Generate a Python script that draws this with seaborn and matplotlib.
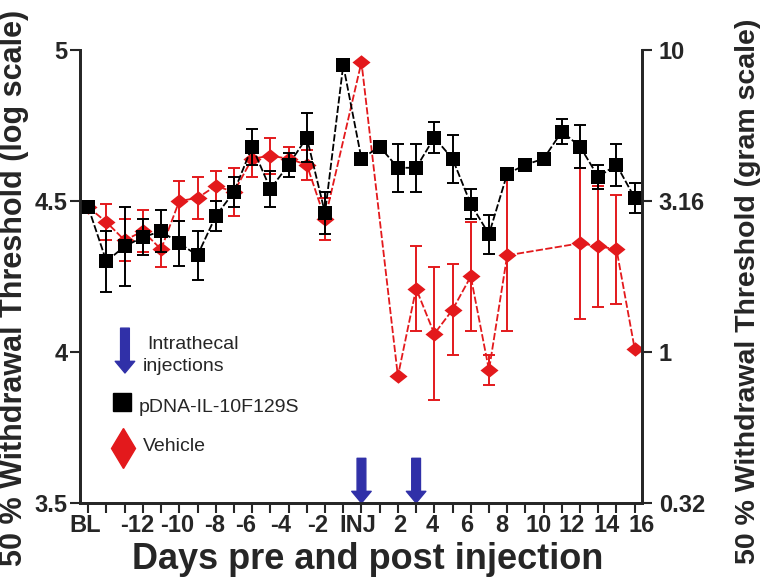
import matplotlib
matplotlib.use("Agg")
import matplotlib.pyplot as plt
import pandas as pd
import seaborn as sns

# measurement slots: 0 = BL, 15 = INJ, 30 = last day
il10_slot = list(range(31))
il10_mean = [4.48, 4.30, 4.35, 4.38, 4.40, 4.36, 4.32, 4.45, 4.53, 4.68,
             4.54, 4.62, 4.71, 4.46, 4.95, 4.64, 4.68, 4.61, 4.61, 4.71,
             4.64, 4.49, 4.39, 4.59, 4.62, 4.64, 4.73, 4.68, 4.58, 4.62, 4.51]
il10_sem = [0, 0.10, 0.13, 0.06, 0.07, 0.075, 0.08, 0.05, 0.05, 0.06,
            0.06, 0.04, 0.08, 0.07, 0, 0, 0, 0.08, 0.08, 0.05,
            0.08, 0.05, 0.065, 0, 0, 0, 0.04, 0.07, 0.04, 0.07, 0.05]

veh_slot = [0, 1, 2, 3, 4, 5, 6, 7, 8, 9, 10, 11, 12, 13, 15,
            17, 18, 19, 20, 21, 22, 23, 27, 28, 29, 30]
veh_mean = [4.48, 4.43, 4.37, 4.40, 4.34, 4.50, 4.51, 4.55, 4.53, 4.64, 4.65, 4.64, 4.62, 4.44, 4.96,
            3.92, 4.21, 4.06, 4.14, 4.25, 3.94, 4.32, 4.36, 4.35, 4.34, 4.01]
veh_sem = [0, 0.06, 0.07, 0.07, 0.06, 0.065, 0.07, 0.05, 0.08, 0.06, 0.06, 0.04, 0.05, 0.07, 0,
           0, 0.14, 0.22, 0.15, 0.18, 0.05, 0.25, 0.25, 0.20, 0.18, 0]

x_labels = ["BL", "-12", "-10", "-8", "-6", "-4", "-2", "INJ",
            "2", "4", "6", "8", "10", "12", "14", "16"]
# labels in the original drift a little from the tick marks
x_label_pos = [-0.15, 2.68, 4.87, 6.95, 8.65, 10.56, 12.6, 14.78,
               17.08, 18.9, 20.8, 22.7, 24.7, 26.55, 28.46, 30.38]
injection_slots = [15, 18]

log_ticks = [3.5, 4, 4.5, 5]
gram_labels = ["0.32", "1", "3.16", "10"]

red = "#e3191c"
blue = "#3030a8"
arrow_style = "simple,head_length=0.6,head_width=1.0,tail_width=0.45"

il10 = pd.DataFrame({"slot": il10_slot, "threshold": il10_mean, "sem": il10_sem})
veh = pd.DataFrame({"slot": veh_slot, "threshold": veh_mean, "sem": veh_sem})

sns.set_style("ticks")
plt.rcParams["font.family"] = ["Liberation Sans", "DejaVu Sans"]

fig = plt.figure(figsize=(7.6, 5.88), dpi=100)
ax = fig.add_axes([80 / 760, 85 / 588, 562 / 760, 453 / 588])

wide_diamond = [(-1, 0), (0, 0.8), (1, 0), (0, -0.8), (-1, 0)]

# vehicle first so the pDNA squares sit on top
v = veh[veh["sem"] > 0]
ax.errorbar(v["slot"], v["threshold"], yerr=v["sem"], fmt="none", ecolor=red,
            elinewidth=1.4, capsize=4.5, capthick=1.4, zorder=2)
sns.lineplot(data=veh, x="slot", y="threshold", color=red, marker=wide_diamond,
             markersize=13, markeredgewidth=0, lw=1.3, ls=(0, (4, 1.3)), ax=ax, zorder=3)

b = il10[il10["sem"] > 0]
ax.errorbar(b["slot"], b["threshold"], yerr=b["sem"], fmt="none", ecolor="black",
            elinewidth=1.4, capsize=4.5, capthick=1.4, zorder=4)
sns.lineplot(data=il10, x="slot", y="threshold", color="black", marker="s",
             markersize=9.5, markeredgewidth=0, lw=1.3, ls=(0, (4, 1.3)), ax=ax, zorder=5)

# injection arrows on the x axis
for s in injection_slots:
    ax.annotate("", xy=(s, 3.5), xytext=(s, 3.648),
                arrowprops=dict(arrowstyle=arrow_style, mutation_scale=14, color=blue,
                                shrinkA=0, shrinkB=0),
                zorder=6)

# hand-made legend
ax.annotate("", xy=(0.080, 0.287), xytext=(0.080, 0.386), xycoords="axes fraction",
            arrowprops=dict(arrowstyle=arrow_style, mutation_scale=14, color=blue,
                            shrinkA=0, shrinkB=0))
ax.text(0.119, 0.349, "Intrathecal", transform=ax.transAxes, fontsize=14, va="center", ha="left")
ax.text(0.112, 0.302, "injections", transform=ax.transAxes, fontsize=14, va="center", ha="left")
ax.plot([0.0747], [0.223], marker="s", markersize=13.5, color="black",
        transform=ax.transAxes, clip_on=False)
ax.text(0.105, 0.21, "pDNA-IL-10F129S", transform=ax.transAxes, fontsize=14, va="center", ha="left")
ax.plot([0.0765], [0.121], marker="d", markersize=20, color=red,
        transform=ax.transAxes, clip_on=False)
ax.text(0.112, 0.124, "Vehicle", transform=ax.transAxes, fontsize=14, va="center", ha="left")

ax.set_xlim(-0.45, 30.4)
ax.set_ylim(3.5, 5.0)
ax.set_xticks(x_label_pos, labels=x_labels)
ax.set_xticks(il10_slot, minor=True)
ax.tick_params(axis="x", which="major", length=0, pad=8, labelsize=17)
ax.tick_params(axis="x", which="minor", length=7, width=1.5, direction="out")
for lbl in ax.get_xticklabels():
    lbl.set_fontweight("bold")

ax.set_yticks(log_ticks, labels=["3.5", "4", "4.5", "5"])
ax.tick_params(axis="y", length=7, width=1.5, pad=2, labelsize=17)
for lbl in ax.get_yticklabels():
    lbl.set_fontweight("bold")

ax2 = ax.twinx()
ax2.set_ylim(3.5, 5.0)
ax2.set_yticks(log_ticks, labels=gram_labels)
ax2.tick_params(axis="y", length=7, width=1.5, pad=5, labelsize=17)
for lbl in ax2.get_yticklabels():
    lbl.set_fontweight("bold")

for a in (ax, ax2):
    a.spines["top"].set_visible(False)
    for side in ("left", "right", "bottom"):
        a.spines[side].set_linewidth(2)

ax.set_xlabel("Days pre and post injection", fontsize=26, fontweight="bold")
ax.xaxis.set_label_coords(0.5125, -0.085)
ax.set_ylabel("50 % Withdrawal Threshold (log scale)", fontsize=22, fontweight="bold")
ax.yaxis.set_label_coords(-0.0907, 0.474)
ax2.set_ylabel("50 % Withdrawal Threshold (gram scale)", fontsize=20.5, fontweight="bold")
ax2.yaxis.set_label_coords(1.165, 0.468)

fig.savefig("out.png", dpi=100)
